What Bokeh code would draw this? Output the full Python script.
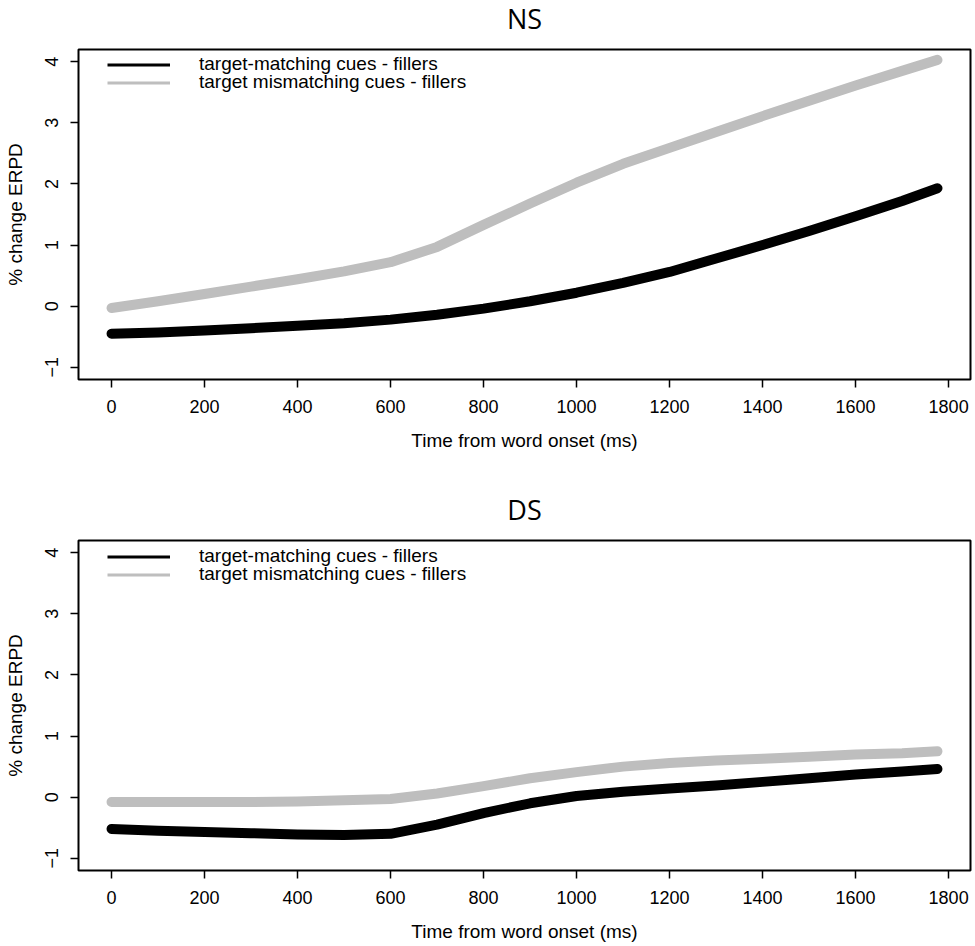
from bokeh.plotting import figure
from bokeh.layouts import column
from bokeh.models import Legend, LegendItem, Range1d, FixedTicker
from bokeh.embed import file_html
from bokeh.resources import INLINE

times = [0, 100, 200, 300, 400, 500, 600, 700, 800, 900, 1000, 1100, 1200, 1300, 1400, 1500, 1600, 1700, 1776]

ns_matching = [-0.45, -0.43, -0.40, -0.36, -0.32, -0.28, -0.22, -0.14, -0.04, 0.08, 0.22, 0.38, 0.56, 0.78, 1.00, 1.23, 1.47, 1.72, 1.93]
ns_mismatching = [-0.03, 0.08, 0.20, 0.32, 0.44, 0.57, 0.72, 0.97, 1.33, 1.68, 2.02, 2.33, 2.59, 2.85, 3.11, 3.36, 3.61, 3.85, 4.03]

ds_matching = [-0.52, -0.55, -0.57, -0.59, -0.61, -0.62, -0.60, -0.45, -0.26, -0.10, 0.02, 0.09, 0.14, 0.19, 0.25, 0.31, 0.37, 0.42, 0.46]
ds_mismatching = [-0.08, -0.08, -0.08, -0.08, -0.07, -0.05, -0.03, 0.06, 0.18, 0.31, 0.41, 0.50, 0.56, 0.60, 0.63, 0.66, 0.70, 0.72, 0.75]

x_ticks = [0, 200, 400, 600, 800, 1000, 1200, 1400, 1600, 1800]
y_ticks = [-1, 0, 1, 2, 3, 4]
labels = ["target-matching cues - fillers", "target mismatching cues - fillers"]
titles = ["NS", "DS"]
x_label = "Time from word onset (ms)"
y_label = "% change ERPD"

BLACK = "#000000"
GRAY = "#BEBEBE"
FONT = "Liberation Sans"
NAN = float("nan")
SHIFT = 16  # page is shifted up so the first title sits near the top edge


def make_panel(title, matching, mismatching, top_border, bottom_border, frame_h):
    p = figure(width=975, height=top_border + frame_h + bottom_border,
               output_backend="svg", toolbar_location=None,
               x_range=Range1d(-71.04, 1847.04), y_range=Range1d(-1.2, 4.2),
               min_border_left=78, min_border_right=5,
               min_border_top=top_border, min_border_bottom=bottom_border,
               title=title)
    p.title.text_font = "Open Sans"
    p.title.text_font_size = "27px"
    p.title.text_font_style = "normal"
    p.title.text_color = BLACK
    p.title.align = "center"
    p.title.offset = -36
    p.title.standoff = 26
    p.xgrid.visible = False
    p.ygrid.visible = False
    p.outline_line_color = BLACK
    p.outline_line_width = 2
    p.background_fill_color = "white"
    p.border_fill_color = "white"

    for ax in (p.xaxis[0], p.yaxis[0]):
        ax.axis_line_color = None
        ax.major_tick_line_color = BLACK
        ax.major_tick_line_width = 1.5
        ax.major_tick_out = 8
        ax.major_tick_in = 0
        ax.minor_tick_line_color = None
        ax.major_label_text_font = FONT
        ax.major_label_text_font_size = "18px"
        ax.major_label_text_color = BLACK
        ax.axis_label_text_font = FONT
        ax.axis_label_text_font_size = "19px"
        ax.axis_label_text_font_style = "normal"
        ax.axis_label_text_color = BLACK

    p.xaxis.ticker = FixedTicker(ticks=x_ticks)
    p.yaxis.ticker = FixedTicker(ticks=y_ticks)
    p.xaxis.axis_label = x_label
    p.yaxis.axis_label = y_label
    p.yaxis.major_label_orientation = "vertical"
    p.xaxis.major_label_standoff = 12
    p.xaxis.axis_label_standoff = 14
    p.yaxis.major_label_standoff = 12
    p.yaxis.axis_label_standoff = 17

    p.line(times, mismatching, line_color=GRAY, line_width=10, line_cap="round", line_join="round")
    p.line(times, matching, line_color=BLACK, line_width=10, line_cap="round", line_join="round")

    leg1 = p.line([NAN], [NAN], line_color=BLACK, line_width=3)
    leg2 = p.line([NAN], [NAN], line_color=GRAY, line_width=3)
    for rend, lab, off in ((leg1, labels[0], 16.0), (leg2, labels[1], 34.0)):
        legend = Legend(items=[LegendItem(label=lab, renderers=[rend])],
                        location=(29, frame_h - off - 11),
                        glyph_width=63, glyph_height=17, label_height=17,
                        label_standoff=29, spacing=0, padding=0, margin=0,
                        border_line_color=None, background_fill_alpha=0,
                        label_text_font=FONT, label_text_font_size="19px",
                        label_text_color=BLACK)
        p.add_layout(legend, "center")
    return p


p1 = make_panel(titles[0], ns_matching, ns_mismatching, 48 + SHIFT, 80, 331)
p2 = make_panel(titles[1], ds_matching, ds_mismatching, 81, 74, 330)

layout = column(p1, p2, spacing=0, styles={"margin-top": f"-{SHIFT}px"})
open("out.html", "w").write(file_html(layout, INLINE))
